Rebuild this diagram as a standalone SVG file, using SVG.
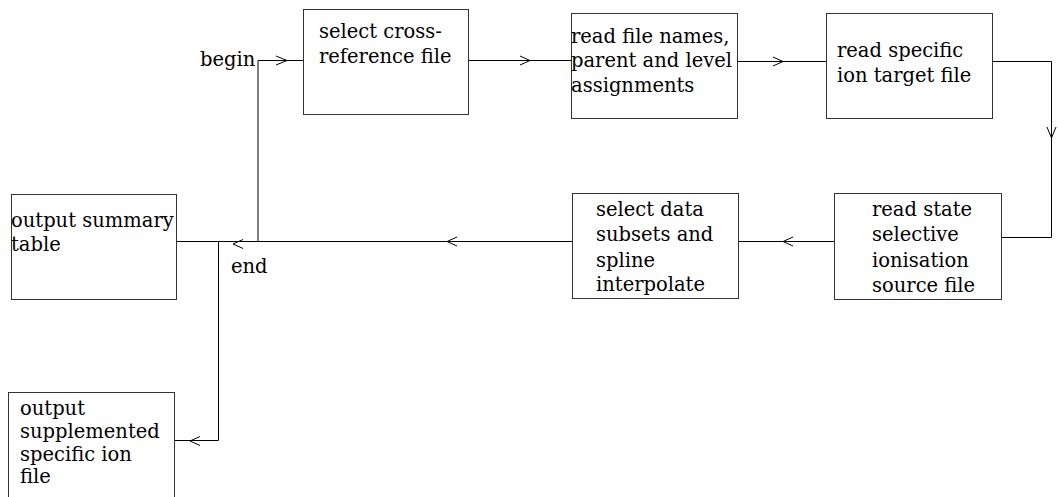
<svg xmlns="http://www.w3.org/2000/svg" width="1058" height="497" viewBox="0 0 1058 497">
<style>
.box{fill:#fff;stroke:#333;stroke-width:1}
.t{font-family:"DejaVu Serif","Liberation Serif",serif;font-size:19.5px;fill:#000}
.ln{fill:none;stroke:#000;stroke-width:1}
</style>
<rect width="1058" height="497" fill="#fff"/>
<g id="connectors">
<polyline class="ln" points="258,241.5 258,60.5 303,60.5"/>
<polyline class="ln" points="276,56 287,60.5 276,65"/>
<line class="ln" x1="468" y1="60.5" x2="571" y2="60.5"/>
<polyline class="ln" points="520,56 530,60.5 520,65"/>
<line class="ln" x1="737" y1="61.5" x2="826" y2="61.5"/>
<polyline class="ln" points="773,57 783,61.5 773,66"/>
<polyline class="ln" points="992,61.5 1051.5,61.5 1051.5,237.5 1001,237.5"/>
<polyline class="ln" points="1047,127 1051.5,138 1056,127"/>
<line class="ln" x1="834" y1="241.5" x2="738" y2="241.5"/>
<polyline class="ln" points="793,237 783,241.5 793,246"/>
<line class="ln" x1="572" y1="241.5" x2="175" y2="241.5"/>
<polyline class="ln" points="457,237 447,241.5 457,246"/>
<polyline class="ln" points="243,239.5 233,244 243,248.5"/>
<polyline class="ln" points="218.5,241.5 218.5,440.5 175,440.5"/>
<polyline class="ln" points="200,436.5 190,441 200,445.5"/>
<text class="t" x="200" y="66">begin</text>
<text class="t" x="231" y="273">end</text>
</g>
<g id="n1"><rect class="box" x="303.5" y="9.5" width="165" height="105"/>
<text class="t" x="319" y="38">select cross-</text>
<text class="t" x="319" y="63">reference file</text></g>
<g id="n2"><rect class="box" x="571.5" y="13.5" width="166" height="105"/>
<text class="t" x="571" y="43">read file names,</text>
<text class="t" x="571" y="67">parent and level</text>
<text class="t" x="571" y="92">assignments</text></g>
<g id="n3"><rect class="box" x="826.5" y="13.5" width="166" height="105"/>
<text class="t" x="837" y="57">read specific</text>
<text class="t" x="837" y="82">ion target file</text></g>
<g id="n4"><rect class="box" x="834.5" y="193.5" width="167" height="106"/>
<text class="t" x="872" y="216">read state</text>
<text class="t" x="872" y="241">selective</text>
<text class="t" x="872" y="267">ionisation</text>
<text class="t" x="872" y="292">source file</text></g>
<g id="n5"><rect class="box" x="572.5" y="193.5" width="166" height="105"/>
<text class="t" x="596" y="216">select data</text>
<text class="t" x="596" y="241">subsets and</text>
<text class="t" x="596" y="267">spline</text>
<text class="t" x="596" y="291">interpolate</text></g>
<g id="n6"><rect class="box" x="11.5" y="194.5" width="165" height="105"/>
<text class="t" x="11" y="227">output summary</text>
<text class="t" x="11" y="251">table</text></g>
<g id="n7"><rect class="box" x="8.5" y="392.5" width="166" height="110"/>
<text class="t" x="20" y="415">output</text>
<text class="t" x="20" y="438">supplemented</text>
<text class="t" x="20" y="461">specific ion</text>
<text class="t" x="20" y="483">file</text></g>
</svg>
